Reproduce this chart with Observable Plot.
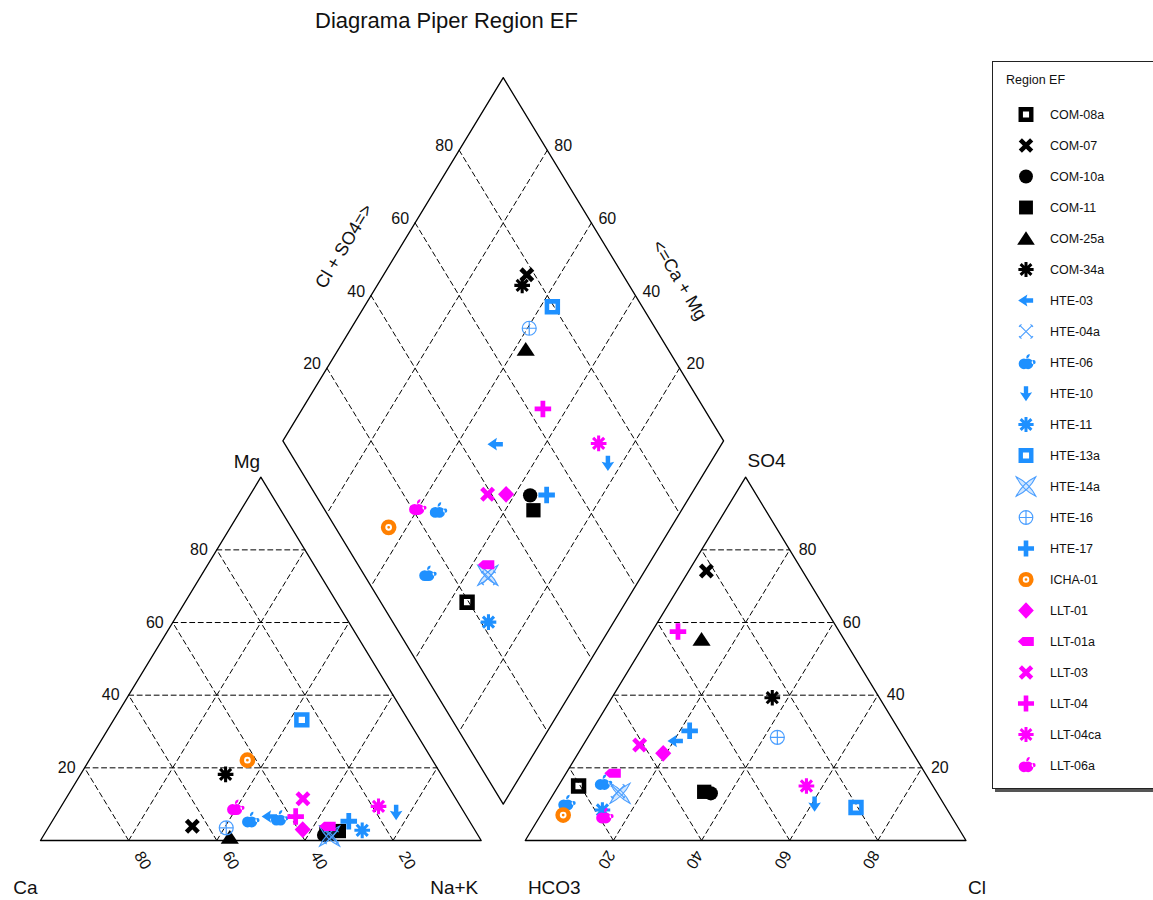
<!DOCTYPE html>
<html>
<head>
<meta charset="utf-8">
<script src="https://cdn.jsdelivr.net/npm/d3@7"></script>
<script src="https://cdn.jsdelivr.net/npm/@observablehq/plot@0.6"></script>
<style>
  html, body { margin: 0; padding: 0; background: #fff; overflow: hidden; }
  body { font-family: "Liberation Sans", Arial, sans-serif; }
  #wrap { position: relative; width: 1153px; height: 900px; overflow: hidden; background: #fff; }
  #chart { position: absolute; left: 0; top: 0; }
  #title { position: absolute; left: 315px; top: 10px; font-size: 22px; line-height: 22px; color: #111; white-space: nowrap; }
  #legend { position: absolute; left: 992px; top: 61px; width: 200px; height: 726px; border: 1.5px solid #222; box-shadow: 3px 3px 0 #555; background: #fff; }
  #legendTitle { position: absolute; left: 13px; top: 11px; font-size: 12.5px; color: #111; white-space: nowrap; }
  #legendPlot { position: absolute; left: 0; top: 0; }
</style>
</head>
<body>
<div id="wrap">
  <div id="chart"></div>
  <div id="title">Diagrama Piper Region EF</div>
  <div id="legend"><div id="legendPlot"></div><div id="legendTitle">Region EF</div></div>
</div>
<script>
// ---------------- DATA ----------------
const legendTitle = "Region EF";
const legendNames = ["COM-08a","COM-07","COM-10a","COM-11","COM-25a","COM-34a","HTE-03","HTE-04a","HTE-06","HTE-10","HTE-11","HTE-13a","HTE-14a","HTE-16","HTE-17","ICHA-01","LLT-01","LLT-01a","LLT-03","LLT-04","LLT-04ca","LLT-06a"];

// one entry per sample (HTE-06 has two samples)
const sampleIds = ["COM-08a","COM-07","COM-10a","COM-11","COM-25a","COM-34a","HTE-03","HTE-04a","HTE-06","HTE-06","HTE-10","HTE-11","HTE-13a","HTE-14a","HTE-16","HTE-17","ICHA-01","LLT-01","LLT-01a","LLT-03","LLT-04","LLT-04ca","LLT-06a"];
// cations (% meq)
const ca   = [34.0, 63.6, 34.9, 31.0, 56.6, 48.9, 44.7, 33.5, 49.8, 43.0, 15.4, 25.6, 24.1, 33.8, 56.1, 27.4, 42.0, 39.0, 32.9, 34.7, 38.8, 18.6, 51.5];
const mg   = [ 2.0,  3.9,  1.5,  2.6,  0.9, 18.2,  6.6,  1.0,  5.5,  6.0,  7.8,  2.8, 33.2,  1.2,  3.5,  5.3, 22.1,  3.0,  3.9, 11.5,  6.6,  9.4,  8.9];
const nak  = [64.0, 32.5, 63.6, 66.4, 42.5, 32.9, 48.7, 65.5, 44.7, 51.0, 76.8, 71.6, 42.7, 65.0, 40.4, 67.3, 35.9, 58.0, 63.2, 53.8, 54.6, 72.0, 39.6];
// anions (% meq)
const hco3 = [80.4, 21.8, 51.4, 52.7, 32.3, 24.3, 52.2, 72.2, 74.6, 85.7, 29.3, 78.3, 20.4, 72.0, 28.6, 47.6, 87.9, 56.7, 70.9, 60.9, 36.6, 28.7, 78.9];
const so4  = [15.0, 74.2, 13.0, 13.4, 55.4, 39.3, 27.4, 13.5, 15.8, 10.2, 10.1,  8.4,  9.1, 13.0, 28.4, 30.2,  7.0, 24.0, 18.5, 26.3, 57.5, 15.0,  6.6];
const cl   = [ 4.6,  4.0, 35.6, 33.9, 12.3, 36.4, 20.4, 14.3,  9.6,  4.1, 60.6, 13.3, 70.5, 15.0, 43.0, 22.2,  5.1, 19.3, 10.6, 12.8,  5.9, 56.3, 14.5];

const gridValues = [20, 40, 60, 80];
const cornerLabels = {ca: "Ca", nak: "Na+K", mg: "Mg", hco3: "HCO3", cl: "Cl", so4: "SO4", dl: "Cl + SO4=>", dr: "<=Ca + Mg"};

// ---------------- GEOMETRY ----------------
const S = Math.sqrt(3) / 2, GAP = 0.1;
const PX = 440.7, X0 = 40, PY = 419.5, Y0 = 840, W = 990, H = 900;

function cat(c, m, n) { const t = c + m + n; return {u: (n + m / 2) / t, v: (m / t) * S}; }
function ani(h, s, c) { const t = h + s + c; return {u: 1 + GAP + (c + s / 2) / t, v: (s / t) * S}; }
function dia(n, h) { const t = 2 + GAP - h - n; return {u: n + t / 2, v: t * S}; }

const outline = [];
const addPoly = (id, ps) => ps.forEach(p => outline.push({id, ...p}));
addPoly("L", [cat(100,0,0), cat(0,0,100), cat(0,100,0), cat(100,0,0)]);
addPoly("R", [ani(100,0,0), ani(0,0,100), ani(0,100,0), ani(100,0,0)]);
addPoly("D", [dia(1,1), dia(0,1), dia(0,0), dia(1,0), dia(1,1)]);

const grid = [];
const seg = (id, a, b) => { grid.push({id, ...a}, {id, ...b}); };
gridValues.forEach(g => {
  const a = g, b = 100 - g;
  seg("cm" + g, cat(b, a, 0), cat(0, a, b));
  seg("cn" + g, cat(b, 0, a), cat(0, b, a));
  seg("cc" + g, cat(a, 0, b), cat(a, b, 0));
  seg("as" + g, ani(b, a, 0), ani(0, a, b));
  seg("ac" + g, ani(b, 0, a), ani(0, b, a));
  seg("ah" + g, ani(a, 0, b), ani(a, b, 0));
  seg("dn" + g, dia(g / 100, 0), dia(g / 100, 1));
  seg("dh" + g, dia(0, g / 100), dia(1, g / 100));
});

// ---------------- SYMBOLS ----------------
const rad = s => Math.sqrt(s / Math.PI);
function poly(c, pts) { c.moveTo(pts[0][0], pts[0][1]); for (let k = 1; k < pts.length; k++) c.lineTo(pts[k][0], pts[k][1]); c.closePath(); }
function circ(c, x, y, rr, ccw = false) { c.moveTo(x + rr, y); c.arc(x, y, rr, 0, 2 * Math.PI, ccw); c.closePath(); }
function plusPts(w, L) { return [[-w,-L],[w,-L],[w,-w],[L,-w],[L,w],[w,w],[w,L],[-w,L],[-w,w],[-L,w],[-L,-w],[-w,-w]]; }
function rotPts(pts, deg) { const a = deg * Math.PI / 180, co = Math.cos(a), si = Math.sin(a); return pts.map(([x, y]) => [x * co - y * si, x * si + y * co]); }
const arrowPts = r => [[-1.15*r,0],[0.2*r,-0.9*r],[0.05*r,-0.32*r],[1.05*r,-0.32*r],[1.05*r,0.32*r],[0.05*r,0.32*r],[0.2*r,0.9*r]];

const SYM = {
  hollowSquare: {draw(c, s) { const r = rad(s), a = 1.1 * r, b = 0.45 * r; poly(c, [[-a,-a],[a,-a],[a,a],[-a,a]]); poly(c, [[-b,-b],[-b,b],[b,b],[b,-b]]); }},
  boldX: {draw(c, s) { const r = rad(s); poly(c, rotPts(plusPts(0.33 * r, 1.18 * r), 45)); }},
  circle: {draw(c, s) { circ(c, 0, 0, 1.02 * rad(s)); }},
  square: {draw(c, s) { const a = 1.02 * rad(s); poly(c, [[-a,-a],[a,-a],[a,a],[-a,a]]); }},
  triangle: {draw(c, s) { const r = rad(s); poly(c, [[0,-1.05*r],[1.3*r,0.92*r],[-1.3*r,0.92*r]]); }},
  asterisk: {draw(c, s) { const r = rad(s), L = 1.12 * r, w = 0.22 * r; for (const ang of [0, 45, 90, 135]) poly(c, rotPts([[-L,-w],[L,-w],[L,w],[-L,w]], ang)); circ(c, 0, 0, 0.5 * r); }},
  leftArrow: {draw(c, s) { poly(c, arrowPts(rad(s))); }},
  downArrow: {draw(c, s) { poly(c, arrowPts(rad(s)).map(([x, y]) => [y, -x])); }},
  thinX: {draw(c, s) { const r = rad(s) * 0.95; c.moveTo(-r,-r); c.lineTo(r,r); c.moveTo(-r,r); c.lineTo(r,-r);
    const e = 0.3 * r; c.moveTo(-r - e*0.3, -r + e); c.lineTo(-r + e, -r - e*0.3); c.moveTo(r + e*0.3, r - e); c.lineTo(r - e, r + e*0.3);
    c.moveTo(-r - e*0.3, r - e); c.lineTo(-r + e, r + e*0.3); c.moveTo(r + e*0.3, -r + e); c.lineTo(r - e, -r - e*0.3); }},
  apple: {draw(c, s) { const r = rad(s);
    circ(c, -0.3*r, 0.2*r, 0.78*r); circ(c, 0.3*r, 0.2*r, 0.78*r);
    circ(c, 1.12*r, -0.05*r, 0.3*r, true);
    c.moveTo(0.05*r, -0.6*r); c.quadraticCurveTo(0.0, -1.2*r, 0.55*r, -1.25*r); c.quadraticCurveTo(0.55*r, -0.7*r, 0.05*r, -0.6*r); c.closePath(); }},
  bowtie: {draw(c, s) { const r = rad(s) * 1.45, k = 0.35 * r;
    c.moveTo(-r,-r); c.quadraticCurveTo(k,-k, r,r); c.quadraticCurveTo(-k,k, -r,-r); c.closePath();
    c.moveTo(-r,r); c.quadraticCurveTo(-k,-k, r,-r); c.quadraticCurveTo(k,k, -r,r); c.closePath(); }},
  circlePlus: {draw(c, s) { const r = rad(s) * 1.0; circ(c, 0, 0, r); c.moveTo(-r,0); c.lineTo(r,0); c.moveTo(0,-r); c.lineTo(0,r); }},
  plus: {draw(c, s) { const r = rad(s); poly(c, plusPts(0.34 * r, 1.18 * r)); }},
  ring: {draw(c, s) { const r = rad(s); circ(c, 0, 0, 1.12 * r); circ(c, 0, 0, 0.48 * r, true); circ(c, 0, 0, 0.2 * r); }},
  diamond: {draw(c, s) { const r = rad(s); poly(c, [[0,-1.2*r],[1.15*r,0],[0,1.2*r],[-1.15*r,0]]); }},
  tag: {draw(c, s) { const r = rad(s); poly(c, [[-1.2*r,0],[-0.5*r,-0.65*r],[1.15*r,-0.65*r],[1.15*r,0.65*r],[-0.5*r,0.65*r]]); }}
};

const BLACK = "#000000", BLUE = "#1e90ff", LBLUE = "#4a9eff", ORANGE = "#ff8000", MAG = "#ff00ff";
const STYLE = {
  "COM-08a": {sym: SYM.hollowSquare, fill: BLACK},
  "COM-07":  {sym: SYM.boldX, fill: BLACK},
  "COM-10a": {sym: SYM.circle, fill: BLACK},
  "COM-11":  {sym: SYM.square, fill: BLACK},
  "COM-25a": {sym: SYM.triangle, fill: BLACK},
  "COM-34a": {sym: SYM.asterisk, fill: BLACK},
  "HTE-03":  {sym: SYM.leftArrow, fill: BLUE},
  "HTE-04a": {sym: SYM.thinX, fill: "none", stroke: LBLUE, sw: 1.1},
  "HTE-06":  {sym: SYM.apple, fill: BLUE},
  "HTE-10":  {sym: SYM.downArrow, fill: BLUE},
  "HTE-11":  {sym: SYM.asterisk, fill: BLUE},
  "HTE-13a": {sym: SYM.hollowSquare, fill: BLUE},
  "HTE-14a": {sym: SYM.bowtie, fill: "rgba(74,158,255,0.25)", stroke: LBLUE, sw: 1.1},
  "HTE-16":  {sym: SYM.circlePlus, fill: "none", stroke: LBLUE, sw: 1.2},
  "HTE-17":  {sym: SYM.plus, fill: BLUE},
  "ICHA-01": {sym: SYM.ring, fill: ORANGE},
  "LLT-01":  {sym: SYM.diamond, fill: MAG},
  "LLT-01a": {sym: SYM.tag, fill: MAG},
  "LLT-03":  {sym: SYM.boldX, fill: MAG},
  "LLT-04":  {sym: SYM.plus, fill: MAG},
  "LLT-04ca":{sym: SYM.asterisk, fill: MAG},
  "LLT-06a": {sym: SYM.apple, fill: MAG}
};

// ---------------- SAMPLE POSITIONS ----------------
const pts = [];
sampleIds.forEach((id, i) => {
  const tc = ca[i] + mg[i] + nak[i], ta = hco3[i] + so4[i] + cl[i];
  pts.push({id, ...cat(ca[i], mg[i], nak[i])});
  pts.push({id, ...ani(hco3[i], so4[i], cl[i])});
  pts.push({id, ...dia(nak[i] / tc, hco3[i] / ta)});
});

// ---------------- LABELS ----------------
const mgLab  = gridValues.map(g => ({...cat(100 - g, g, 0), t: String(g)}));
const caLab  = gridValues.map(g => ({...cat(g, 0, 100 - g), t: String(g)}));
const clLab  = gridValues.map(g => ({...ani(100 - g, 0, g), t: String(g)}));
const so4Lab = gridValues.map(g => ({...ani(0, g, 100 - g), t: String(g)}));
const dlLab  = gridValues.map(g => ({...dia(0, 1 - g / 100), t: String(g)}));
const drLab  = gridValues.map(g => ({...dia(1 - g / 100, 0), t: String(g)}));

const FONT = '"Liberation Sans", Arial, sans-serif';
const tx = (data, o) => Plot.text(data, {x: "u", y: "v", text: "t", fill: "#111", fontSize: 16, ...o});

const marks = [
  Plot.line(grid, {x: "u", y: "v", z: "id", stroke: "#000", strokeWidth: 1, strokeDasharray: "5,3.5"}),
  Plot.line(outline, {x: "u", y: "v", z: "id", stroke: "#000", strokeWidth: 1.3}),
  tx(mgLab, {dx: -9, textAnchor: "end"}),
  tx(caLab, {dx: 14, dy: 20, rotate: 60}),
  tx(clLab, {dx: -7, dy: 19, rotate: 120}),
  tx(so4Lab, {dx: 9, textAnchor: "start"}),
  tx(dlLab, {dx: -6, dy: -4, textAnchor: "end"}),
  tx(drLab, {dx: 7, dy: -4, textAnchor: "start"}),
  tx([{...cat(100,0,0), t: cornerLabels.ca}], {dx: -15, dy: 47, fontSize: 19}),
  tx([{...cat(0,0,100), t: cornerLabels.nak}], {dx: -27, dy: 47, fontSize: 19}),
  tx([{...cat(0,100,0), t: cornerLabels.mg}], {dx: -14, dy: -15, fontSize: 19}),
  tx([{...ani(100,0,0), t: cornerLabels.hco3}], {dx: 29, dy: 47, fontSize: 19}),
  tx([{...ani(0,0,100), t: cornerLabels.cl}], {dx: 11, dy: 47, fontSize: 19}),
  tx([{...ani(0,100,0), t: cornerLabels.so4}], {dx: 21, dy: -16, fontSize: 19}),
  tx([{...dia(0, 0.5), t: cornerLabels.dl}], {dx: -49, dy: -13, rotate: -59, fontSize: 18}),
  tx([{...dia(0.5, 0), t: cornerLabels.dr}], {dx: 66, dy: 21, rotate: 59, fontSize: 18})
];

legendNames.forEach(name => {
  const st = STYLE[name];
  marks.push(Plot.dot(pts.filter(p => p.id === name), {
    x: "u", y: "v", symbol: st.sym, r: 7,
    fill: st.fill, stroke: st.stroke || "none", strokeWidth: st.sw || 0
  }));
});

const chart = Plot.plot({
  width: W, height: H, margin: 0,
  style: {fontFamily: FONT, background: "transparent"},
  x: {domain: [-X0 / PX, (W - X0) / PX], range: [0, W], axis: null},
  y: {domain: [(Y0 - H) / PY, Y0 / PY], range: [H, 0], axis: null},
  marks
});
document.getElementById("chart").append(chart);

// ---------------- LEGEND ----------------
const legMarks = legendNames.map(name => {
  const st = STYLE[name];
  return Plot.dot([name], {x: () => 0, y: d => d, symbol: st.sym, r: 6.8,
    fill: st.fill, stroke: st.stroke || "none", strokeWidth: st.sw || 0});
});
legMarks.push(Plot.text(legendNames, {x: () => 1, y: d => d, text: d => d, textAnchor: "start", fontSize: 12.5, fill: "#111"}));
const legend = Plot.plot({
  width: 170, height: 726, margin: 0,
  style: {fontFamily: FONT, background: "transparent"},
  x: {domain: [0, 1], range: [32.5, 56.5], axis: null},
  y: {type: "point", domain: legendNames, range: [51, 704.5], padding: 0, axis: null},
  marks: legMarks
});
document.getElementById("legendPlot").append(legend);
</script>
</body>
</html>
